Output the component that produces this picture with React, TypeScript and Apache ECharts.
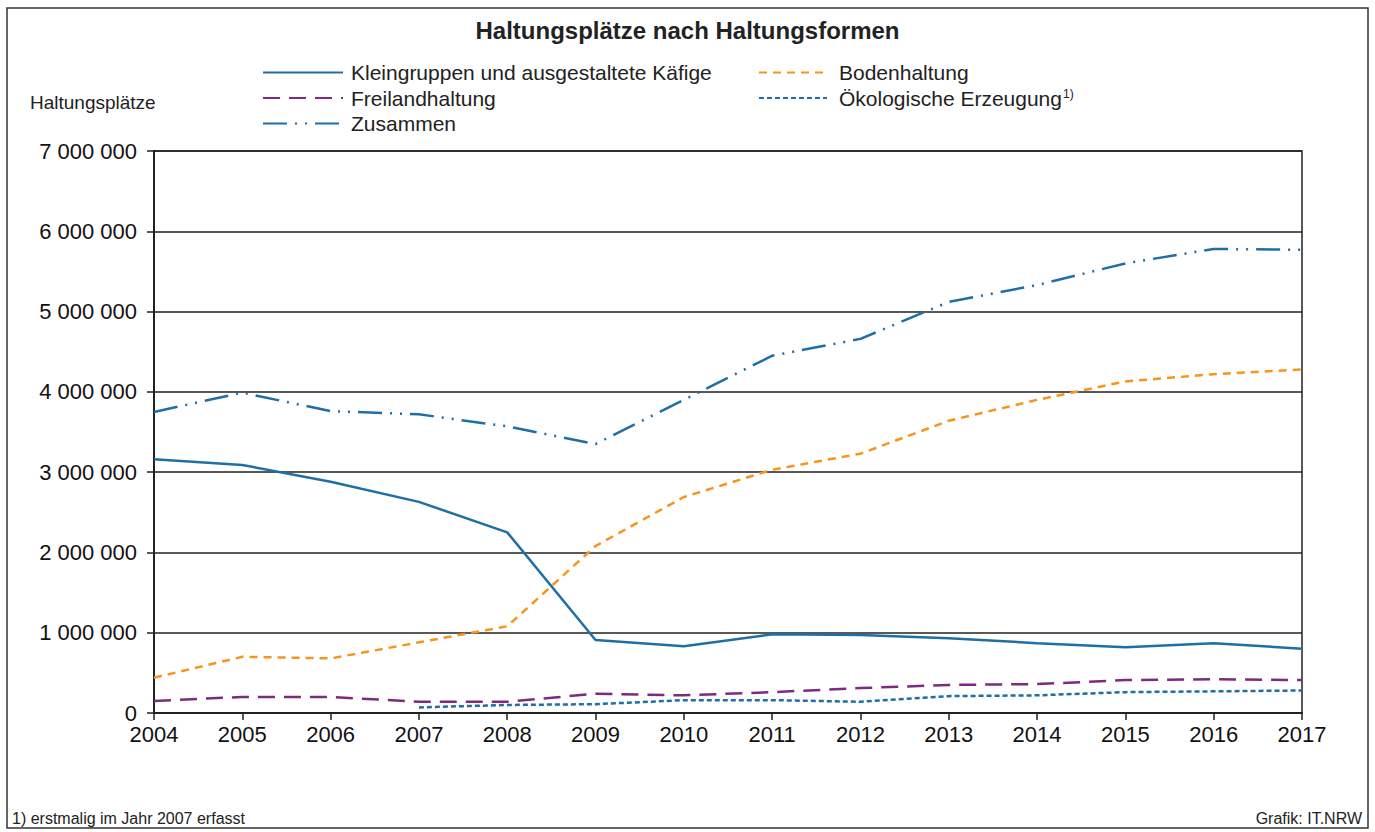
import React, { useEffect, useRef } from "react";
import * as echarts from "echarts";

const years = ["2004","2005","2006","2007","2008","2009","2010","2011","2012","2013","2014","2015","2016","2017"];
const kleingruppen = [3160000,3090000,2880000,2630000,2250000,910000,830000,980000,970000,930000,870000,820000,870000,800000];
const bodenhaltung = [440000,700000,680000,880000,1080000,2080000,2690000,3030000,3230000,3640000,3900000,4130000,4220000,4280000];
const freiland = [150000,200000,200000,140000,140000,240000,220000,260000,310000,350000,360000,410000,420000,410000];
const oeko = [null,null,null,70000,100000,110000,160000,160000,140000,210000,220000,260000,270000,280000];
const zusammen = [3750000,3990000,3760000,3720000,3570000,3350000,3900000,4450000,4660000,5120000,5330000,5600000,5780000,5770000];

const FONT = "'Liberation Sans', Arial, sans-serif";
const BLUE = "#1f6ea6";
const ORANGE = "#f7941d";
const PURPLE = "#7d2a80";

const fmt = (v: number) => String(v).replace(/\B(?=(\d{3})+(?!\d))/g, " ");

export default function App() {
  const ref = useRef<HTMLDivElement>(null);
  useEffect(() => {
    document.body.style.margin = "0";
    const chart = echarts.init(ref.current!, null, { renderer: "svg" });
    const legendText = { fontFamily: FONT, fontSize: 21, color: "#222", lineHeight: 21, padding: [0, 0, 0, 3] };
    const legendCommon = {
      orient: "vertical" as const,
      itemHeight: 14,
      itemGap: 4.5,
      padding: 0,
      itemStyle: { color: "transparent", borderColor: "transparent", borderWidth: 0 },
      textStyle: legendText,
      selectedMode: false,
    };
    chart.setOption({
      animation: false,
      backgroundColor: "#fff",
      title: {
        text: "Haltungsplätze nach Haltungsformen",
        left: "center",
        top: 13,
        textStyle: { fontFamily: FONT, fontSize: 24, fontWeight: "bold", color: "#222" },
      },
      legend: [
        {
          ...legendCommon,
          left: 262,
          top: 62,
          itemWidth: 80,
          data: ["Kleingruppen und ausgestaltete Käfige", "Freilandhaltung", "Zusammen"],
        },
        {
          ...legendCommon,
          left: 758,
          top: 62,
          itemWidth: 68,
          data: ["Bodenhaltung", "Ökologische Erzeugung"],
          formatter: (name: string) =>
            name === "Ökologische Erzeugung" ? "{a|" + name + "}{s|1)}" : "{a|" + name + "}",
          textStyle: {
            ...legendText,
            padding: [0, 0, 0, 7],
            rich: {
              a: { fontFamily: FONT, fontSize: 21, color: "#222", lineHeight: 21 },
              s: { fontFamily: FONT, fontSize: 12, color: "#222", verticalAlign: "top", lineHeight: 12, padding: [0, 0, 12, 1] },
            },
          },
        },
      ],
      grid: { left: 154, right: 73, top: 151, bottom: 119, show: true, borderColor: "#222", borderWidth: 1.5 },
      xAxis: {
        type: "category",
        data: years,
        boundaryGap: false,
        axisLine: { lineStyle: { color: "#222", width: 2 } },
        axisTick: { show: true, length: 7, lineStyle: { color: "#222", width: 1.5 } },
        axisLabel: { fontFamily: FONT, fontSize: 22, color: "#111", margin: 10, lineHeight: 22 },
        splitLine: { show: false },
      },
      yAxis: {
        type: "value",
        min: 0,
        max: 7000000,
        interval: 1000000,
        axisLine: { show: true, lineStyle: { color: "#222", width: 2 } },
        axisTick: { show: true, length: 7, lineStyle: { color: "#222", width: 1.5 } },
        axisLabel: { fontFamily: FONT, fontSize: 22, color: "#111", margin: 17, lineHeight: 22, formatter: (v: number) => fmt(v) },
        splitLine: { show: true, lineStyle: { color: "#222", width: 1.5 } },
      },
      series: [
        {
          name: "Kleingruppen und ausgestaltete Käfige",
          type: "line",
          data: kleingruppen,
          symbol: "none",
          color: BLUE,
          lineStyle: { color: BLUE, width: 2.5, type: "solid" },
        },
        {
          name: "Bodenhaltung",
          type: "line",
          data: bodenhaltung,
          symbol: "none",
          color: ORANGE,
          lineStyle: { color: ORANGE, width: 2.5, type: [8, 6] },
        },
        {
          name: "Freilandhaltung",
          type: "line",
          data: freiland,
          symbol: "none",
          color: PURPLE,
          lineStyle: { color: PURPLE, width: 2.5, type: [17, 9] },
        },
        {
          name: "Ökologische Erzeugung",
          type: "line",
          data: oeko,
          symbol: "none",
          color: BLUE,
          lineStyle: { color: BLUE, width: 2.5, type: [5, 3] },
        },
        {
          name: "Zusammen",
          type: "line",
          data: zusammen,
          symbol: "none",
          color: BLUE,
          lineStyle: { color: BLUE, width: 2.5, type: [24, 8, 2, 8, 2, 8] },
        },
      ],
      graphic: [
        {
          type: "rect",
          shape: { x: 7, y: 8, width: 1361, height: 820 },
          style: { fill: "none", stroke: "#333", lineWidth: 1.5 },
          silent: true,
          z: -1,
        },
        {
          type: "text",
          left: 30,
          top: 93,
          style: { text: "Haltungsplätze", fontFamily: FONT, fontSize: 19, fill: "#222" },
        },
        {
          type: "text",
          left: 12,
          top: 810,
          style: { text: "1) erstmalig im Jahr 2007 erfasst", fontFamily: FONT, fontSize: 16, fill: "#222" },
        },
        {
          type: "text",
          right: 13,
          top: 810,
          style: { text: "Grafik: IT.NRW", fontFamily: FONT, fontSize: 16, fill: "#222" },
        },
      ],
    });
    return () => chart.dispose();
  }, []);
  return <div ref={ref} style={{ width: 1375, height: 832 }} />;
}
